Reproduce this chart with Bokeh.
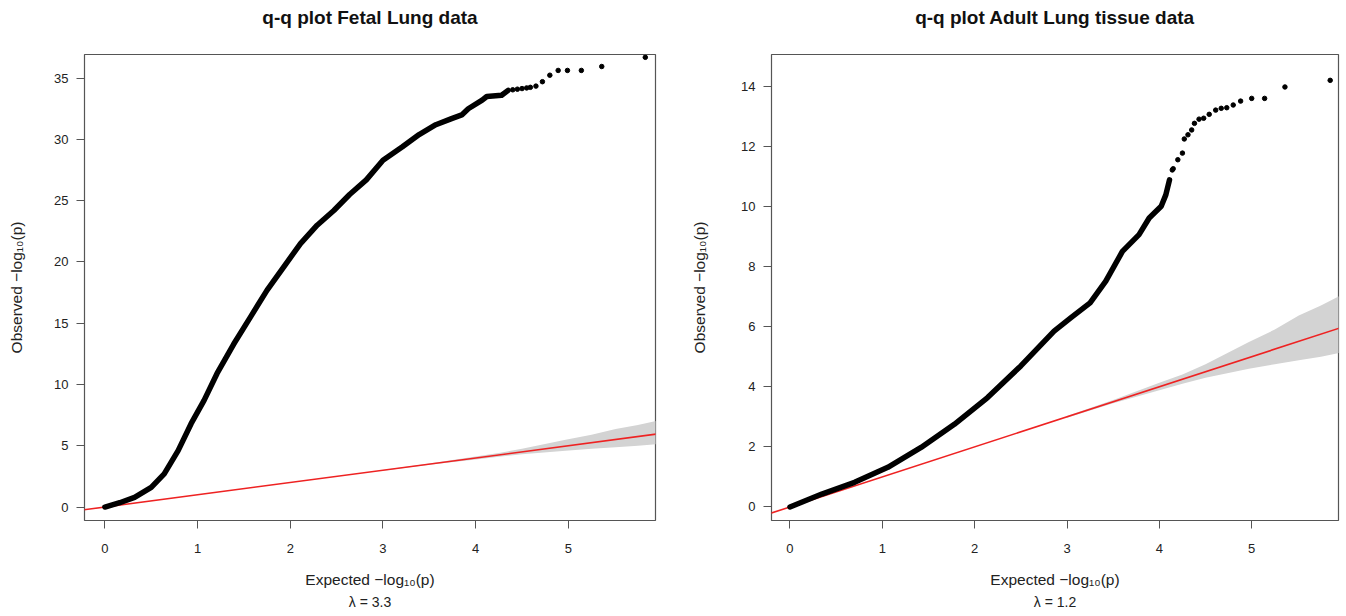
from bokeh.plotting import figure
from bokeh.layouts import row
from bokeh.models import FixedTicker, Range1d, Title
from bokeh.embed import file_html
from bokeh.resources import INLINE

# ---------------- data ----------------
# Fetal lung: dense part of the q-q curve (expected, observed -log10 p)
fetal_line_x = [0.0, 0.16, 0.32, 0.50, 0.64, 0.79, 0.93, 1.07, 1.21, 1.39, 1.57, 1.75,
                1.93, 2.11, 2.29, 2.47, 2.64, 2.82, 3.00, 3.21, 3.39, 3.57, 3.74, 3.85,
                3.92, 4.07, 4.12, 4.28, 4.35]
fetal_line_y = [0.0, 0.35, 0.79, 1.61, 2.70, 4.6, 6.8, 8.7, 10.9, 13.3, 15.5, 17.7,
                19.6, 21.5, 23.0, 24.2, 25.5, 26.7, 28.3, 29.4, 30.4, 31.2, 31.7, 32.0,
                32.5, 33.2, 33.5, 33.6, 34.0]
# Fetal lung: sparse tail points
fetal_tail_x = [4.40, 4.45, 4.50, 4.55, 4.59, 4.65, 4.72, 4.80, 4.89, 4.99, 5.14, 5.36, 5.83]
fetal_tail_y = [34.05, 34.1, 34.15, 34.2, 34.25, 34.35, 34.71, 35.24, 35.63, 35.63, 35.63, 35.95, 36.7]

# Adult lung tissue: dense part
adult_line_x = [0.0, 0.345, 0.70, 1.06, 1.42, 1.78, 2.14, 2.50, 2.86, 3.04, 3.25, 3.42,
                3.60, 3.78, 3.89, 4.02, 4.07, 4.11]
adult_line_y = [0.0, 0.43, 0.82, 1.32, 1.98, 2.75, 3.64, 4.69, 5.85, 6.29, 6.79, 7.51,
                8.50, 9.06, 9.61, 10.0, 10.38, 10.88]
# Adult lung tissue: sparse tail points
adult_tail_x = [4.14, 4.15, 4.20, 4.25, 4.27, 4.31, 4.35, 4.38, 4.43, 4.48, 4.54, 4.61,
                4.67, 4.73, 4.80, 4.88, 5.00, 5.14, 5.36, 5.85]
adult_tail_y = [11.21, 11.25, 11.55, 11.77, 12.24, 12.38, 12.54, 12.76, 12.9, 12.93, 13.06, 13.2,
                13.26, 13.28, 13.37, 13.50, 13.59, 13.59, 13.97, 14.19]

# 95% confidence band around the null line
ci_x = [3.0, 3.5, 4.0, 4.25, 4.5, 4.97, 5.25, 5.51, 5.75, 6.0]
ci_upper = [3.03, 3.56, 4.13, 4.41, 4.75, 5.49, 5.90, 6.37, 6.70, 7.10]
ci_lower = [2.97, 3.45, 3.88, 4.10, 4.30, 4.60, 4.75, 4.88, 5.00, 5.15]

# null line y = x
ref_x = [-0.5, 6.5]
ref_y = [-0.5, 6.5]

titles = ["q-q plot Fetal Lung data", "q-q plot Adult Lung tissue data"]
lambdas = ["λ = 3.3", "λ = 1.2"]
x_ticks = [0, 1, 2, 3, 4, 5]
fetal_y_ticks = [0, 5, 10, 15, 20, 25, 30, 35]
adult_y_ticks = [0, 2, 4, 6, 8, 10, 12, 14]

FONT = "Liberation Sans"


def make_panel(title, lam, lx, ly, tx, ty, yticks, xr, yr, border_left, border_right, ylab_standoff):
    p = figure(width=673, height=610,
               x_range=Range1d(*xr), y_range=Range1d(*yr),
               output_backend="svg", toolbar_location=None,
               min_border_left=border_left, min_border_right=border_right,
               min_border_top=54, min_border_bottom=90)
    p.grid.visible = False
    p.background_fill_color = "white"
    p.border_fill_color = "white"
    p.outline_line_color = "#555555"
    p.outline_line_width = 1.2

    # spacer between frame and title, then the title itself further out
    spacer = Title(text=" ", text_font=FONT, text_font_size="16px", standoff=8)
    p.add_layout(spacer, "above")
    main_title = Title(text=title, align="center", text_font=FONT, text_font_size="19px",
                       text_font_style="bold", text_color="#111111", standoff=0)
    p.add_layout(main_title, "above")

    # confidence band
    p.varea(x=ci_x, y1=ci_lower, y2=ci_upper, fill_color="#d3d3d3", fill_alpha=1.0)
    # null line
    p.line(ref_x, ref_y, line_color="#ee2222", line_width=1.6)
    # q-q points
    p.line(lx, ly, line_color="black", line_width=5.5, line_cap="round", line_join="round")
    p.scatter(tx, ty, size=4.5, color="black")

    for ax in (p.xaxis[0], p.yaxis[0]):
        ax.axis_line_color = None
        ax.major_tick_line_color = "#555555"
        ax.major_tick_out = 8
        ax.major_tick_in = 0
        ax.minor_tick_line_color = None
        ax.major_label_text_font = FONT
        ax.major_label_text_font_size = "13px"
        ax.major_label_text_color = "#222222"
        ax.axis_label_text_font = FONT
        ax.axis_label_text_font_size = "15.5px"
        ax.axis_label_text_font_style = "normal"
        ax.axis_label_text_color = "#222222"

    p.xaxis.ticker = FixedTicker(ticks=x_ticks)
    p.yaxis.ticker = FixedTicker(ticks=yticks)
    p.xaxis.major_label_standoff = 15
    p.yaxis.major_label_standoff = 8
    p.yaxis.major_label_orientation = "horizontal"
    p.xaxis.axis_label = "Expected −log₁₀(p)"
    p.yaxis.axis_label = "Observed −log₁₀(p)"
    p.xaxis.axis_label_standoff = 15
    p.yaxis.axis_label_standoff = ylab_standoff

    lam_title = Title(text=lam, align="center", text_font=FONT, text_font_size="14px",
                      text_font_style="normal", text_color="#222222", standoff=2)
    p.add_layout(lam_title, "below")
    return p


p1 = make_panel(titles[0], lambdas[0], fetal_line_x, fetal_line_y, fetal_tail_x, fetal_tail_y,
                fetal_y_ticks, (-0.22, 5.94), (-1.10, 36.93), 84, 18, 26)
p2 = make_panel(titles[1], lambdas[1], adult_line_x, adult_line_y, adult_tail_x, adult_tail_y,
                adult_y_ticks, (-0.20, 5.94), (-0.45, 15.05), 98, 8, 30)

layout = row(p1, p2)
open("out.html", "w").write(file_html(layout, INLINE))
